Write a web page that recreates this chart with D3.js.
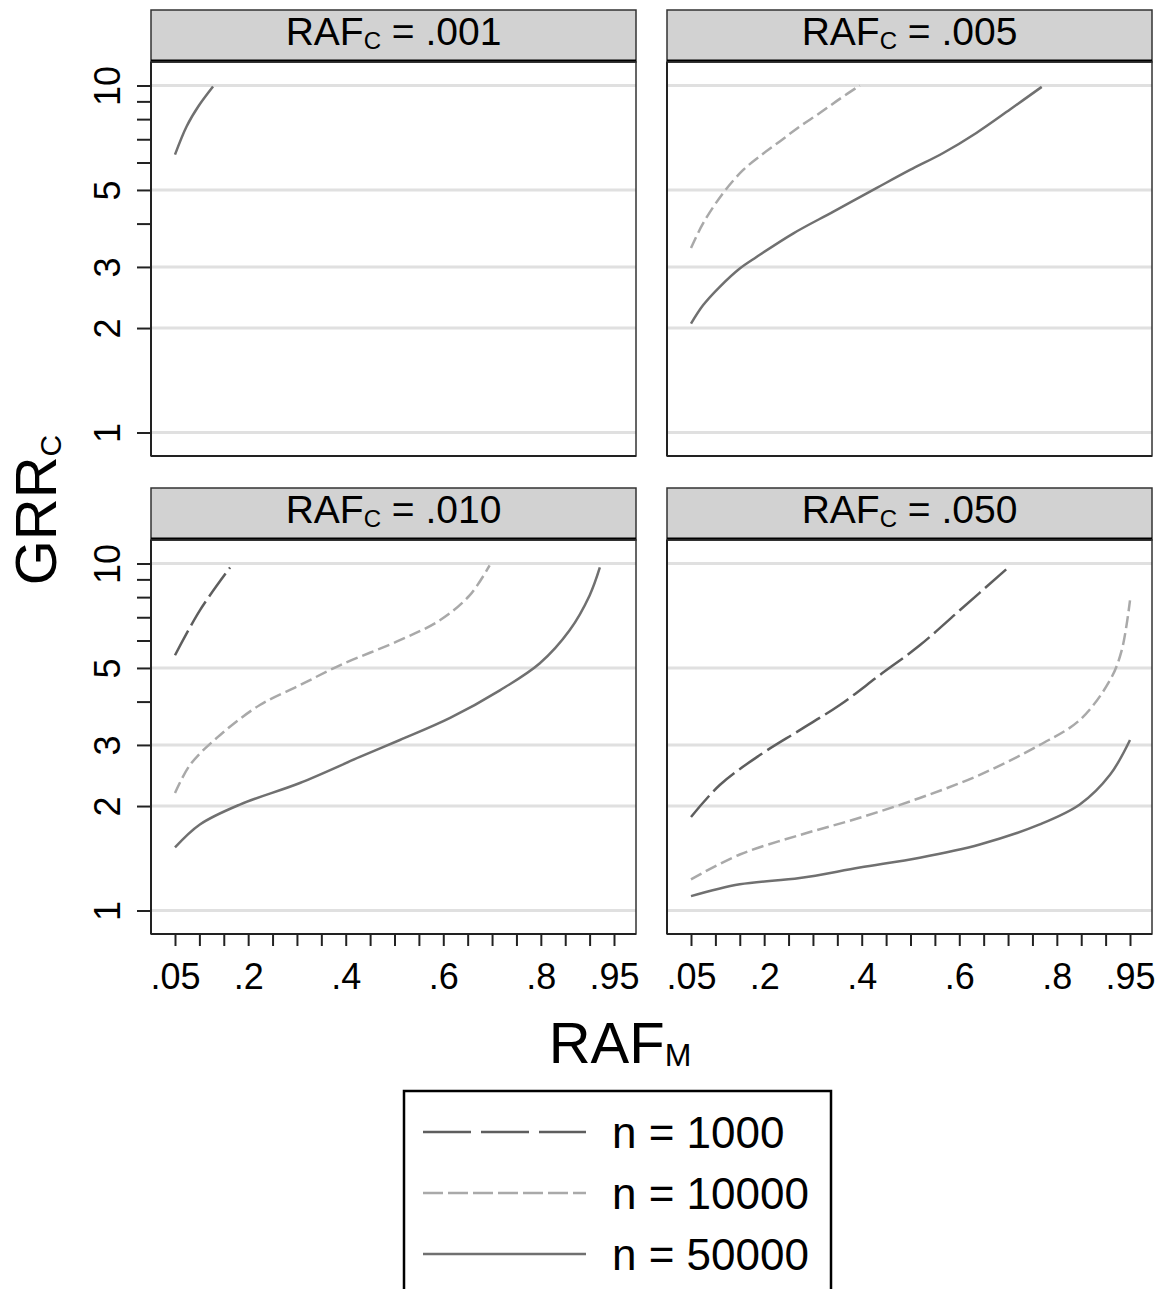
<!DOCTYPE html>
<html>
<head>
<meta charset="utf-8">
<script src="https://cdn.jsdelivr.net/npm/d3@7"></script>
<style>
  body { margin: 0; background: #fff; }
  text { font-family: "Liberation Sans", Arial, sans-serif; }
</style>
</head>
<body>
<svg id="chart" width="1161" height="1289"></svg>
<script>
// panel titles (RAF_C values)
var panelLabels = ['.001', '.005', '.010', '.050'];
var seriesNames = ['n = 1000', 'n = 10000', 'n = 50000'];

// curves, [RAF_M, GRR_C]
var c001_n50000 = [[0.05, 6.32], [0.074, 7.63], [0.098, 8.71], [0.128, 9.93]];

var c005_n10000 = [[0.05, 3.40], [0.075, 4.01], [0.116, 4.90], [0.157, 5.71], [0.191, 6.25],
                   [0.232, 6.90], [0.273, 7.62], [0.314, 8.33], [0.355, 9.15], [0.396, 10.0]];
var c005_n50000 = [[0.05, 2.06], [0.075, 2.33], [0.109, 2.63], [0.15, 2.97], [0.185, 3.21],
                   [0.26, 3.75], [0.342, 4.33], [0.43, 5.06], [0.499, 5.71], [0.567, 6.39],
                   [0.635, 7.30], [0.704, 8.53], [0.769, 9.91]];

var c010_n1000 = [[0.05, 5.44], [0.101, 7.33], [0.163, 9.74]];
var c010_n10000 = [[0.05, 2.18], [0.081, 2.63], [0.142, 3.20], [0.224, 3.91], [0.306, 4.46],
                   [0.388, 5.09], [0.511, 6.01], [0.593, 6.86], [0.654, 8.09], [0.695, 9.87]];
var c010_n50000 = [[0.05, 1.52], [0.101, 1.77], [0.183, 2.02], [0.306, 2.33], [0.429, 2.77],
                   [0.511, 3.10], [0.614, 3.59], [0.716, 4.31], [0.798, 5.16], [0.859, 6.42],
                   [0.9, 8.09], [0.921, 9.74]];

var c050_n1000 = [[0.05, 1.86], [0.109, 2.30], [0.192, 2.81], [0.273, 3.31], [0.355, 3.91],
                  [0.437, 4.77], [0.519, 5.81], [0.601, 7.33], [0.698, 9.67]];
var c050_n10000 = [[0.05, 1.23], [0.15, 1.45], [0.273, 1.65], [0.396, 1.85], [0.519, 2.11],
                   [0.642, 2.46], [0.765, 3.00], [0.847, 3.54], [0.909, 4.61], [0.933, 5.62],
                   [0.95, 7.83]];
var c050_n50000 = [[0.05, 1.10], [0.15, 1.19], [0.273, 1.24], [0.396, 1.33], [0.519, 1.42],
                   [0.642, 1.55], [0.765, 1.77], [0.847, 2.02], [0.909, 2.46], [0.95, 3.10]];

var xTicks = [0.05, 0.1, 0.15, 0.2, 0.25, 0.3, 0.35, 0.4, 0.45, 0.5, 0.55, 0.6, 0.65, 0.7, 0.75, 0.8, 0.85, 0.9, 0.95];
var xLabels = {0.05: '.05', 0.2: '.2', 0.4: '.4', 0.6: '.6', 0.8: '.8', 0.95: '.95'};
var yTicks = [1, 2, 3, 4, 5, 6, 7, 8, 9, 10];
var yLabels = [1, 2, 3, 5, 10];

var panelData = [
  [null, null, c001_n50000],
  [null, c005_n10000, c005_n50000],
  [c010_n1000, c010_n10000, c010_n50000],
  [c050_n1000, c050_n10000, c050_n50000]
];

var styles = [
  {color: '#5e5e5e', dash: '28,6', legendDash: '48,10'},
  {color: '#a9a9a9', dash: '12,5', legendDash: '20,5'},
  {color: '#707070', dash: null, legendDash: null}
];

var svg = d3.select('#chart'),
    pw = 485,   // plot width
    ph = 394,   // plot height
    stripH = 52,
    lefts = [151, 667],
    tops = [62, 540];

var x = d3.scaleLinear().domain([0.05, 0.95]).range([24, 463]);
var y = d3.scaleLog().domain([1, 10]).range([370.5, 23.5]);

var line = d3.line()
  .x(function(d) { return x(d[0]); })
  .y(function(d) { return y(d[1]); })
  .curve(d3.curveCatmullRom.alpha(0.5));

svg.append('defs').append('clipPath').attr('id', 'plotclip')
  .append('rect').attr('width', pw).attr('height', ph);

panelLabels.forEach(function(lab, i) {
  var col = i % 2, row = Math.floor(i / 2);
  var g = svg.append('g').attr('transform', 'translate(' + lefts[col] + ',' + tops[row] + ')');

  // strip
  g.append('rect')
    .attr('x', 0).attr('y', -stripH)
    .attr('width', pw).attr('height', stripH)
    .attr('fill', '#d2d2d2').attr('stroke', '#333').attr('stroke-width', 1.5);
  g.append('line')
    .attr('x1', 0).attr('x2', pw).attr('y1', -1).attr('y2', -1)
    .attr('stroke', '#000').attr('stroke-width', 3);
  var t = g.append('text')
    .attr('x', pw / 2).attr('y', -17)
    .attr('text-anchor', 'middle')
    .attr('font-size', 39).attr('fill', '#000');
  t.append('tspan').text('RAF');
  t.append('tspan').attr('font-size', 24).attr('dy', 4).text('C');
  t.append('tspan').attr('dy', -4).text(' = ' + lab);

  // grid
  g.selectAll('.grid').data(yLabels).enter().append('line')
    .attr('x1', 0).attr('x2', pw)
    .attr('y1', function(d) { return y(d); }).attr('y2', function(d) { return y(d); })
    .attr('stroke', '#e0e0e0').attr('stroke-width', 3);

  // curves
  var lines = g.append('g').attr('clip-path', 'url(#plotclip)');
  panelData[i].forEach(function(data, s) {
    if (!data) return;
    lines.append('path')
      .attr('d', line(data))
      .attr('fill', 'none')
      .attr('stroke', styles[s].color)
      .attr('stroke-width', 2.5)
      .attr('stroke-dasharray', styles[s].dash);
  });

  // frame
  g.append('rect')
    .attr('width', pw).attr('height', ph)
    .attr('fill', 'none').attr('stroke', '#333').attr('stroke-width', 1.5);
  g.append('line').attr('x1', 0).attr('x2', 0).attr('y1', 0).attr('y2', ph)
    .attr('stroke', '#222').attr('stroke-width', 2);
  g.append('line').attr('x1', 0).attr('x2', pw).attr('y1', ph).attr('y2', ph)
    .attr('stroke', '#222').attr('stroke-width', 2);

  // y axis on left column
  if (col === 0) {
    var ya = g.append('g').call(d3.axisLeft(y)
      .tickValues(yTicks).tickSize(14).tickSizeOuter(0)
      .tickFormat(function(d) { return yLabels.indexOf(d) >= 0 ? d : ''; }));
    ya.select('.domain').remove();
    ya.selectAll('line').attr('stroke', '#222').attr('stroke-width', 2);
    ya.selectAll('text')
      .attr('x', null).attr('dy', null)
      .attr('transform', 'translate(-31,0) rotate(-90)')
      .attr('text-anchor', 'middle')
      .attr('font-size', 36).attr('fill', '#000')
      .attr('font-family', '"Liberation Sans", Arial, sans-serif');
  }

  // x axis on bottom row
  if (row === 1) {
    var xa = g.append('g').attr('transform', 'translate(0,' + ph + ')')
      .call(d3.axisBottom(x)
        .tickValues(xTicks).tickSize(12).tickSizeOuter(0)
        .tickFormat(function(d) { return xLabels[d] || ''; }));
    xa.select('.domain').remove();
    xa.selectAll('line').attr('stroke', '#222').attr('stroke-width', 2);
    xa.selectAll('text')
      .attr('y', 55).attr('dy', null)
      .attr('font-size', 36).attr('fill', '#000')
      .attr('font-family', '"Liberation Sans", Arial, sans-serif');
  }
});

// axis titles
var yt = svg.append('text')
  .attr('transform', 'translate(56,510) rotate(-90)')
  .attr('text-anchor', 'middle')
  .attr('font-size', 58);
yt.append('tspan').text('GRR');
yt.append('tspan').attr('font-size', 30).attr('dy', 5).text('C');

var xt = svg.append('text')
  .attr('x', 620).attr('y', 1063)
  .attr('text-anchor', 'middle')
  .attr('font-size', 58);
xt.append('tspan').text('RAF');
xt.append('tspan').attr('font-size', 32).attr('dy', 3).text('M');

// legend
var lg = svg.append('g').attr('transform', 'translate(404,1091)');
lg.append('rect')
  .attr('width', 427).attr('height', 220)
  .attr('fill', '#fff').attr('stroke', '#000').attr('stroke-width', 2.5);
var items = lg.selectAll('.item').data(seriesNames).enter().append('g')
  .attr('transform', function(d, i) { return 'translate(0,' + (41 + i * 61) + ')'; });
items.append('line')
  .attr('x1', 19).attr('x2', 182)
  .attr('stroke', function(d, i) { return styles[i].color; })
  .attr('stroke-width', 2.5)
  .attr('stroke-dasharray', function(d, i) { return styles[i].legendDash; });
items.append('text')
  .attr('x', 208).attr('y', 16)
  .attr('font-size', 44)
  .text(function(d) { return d; });
</script>
</body>
</html>
